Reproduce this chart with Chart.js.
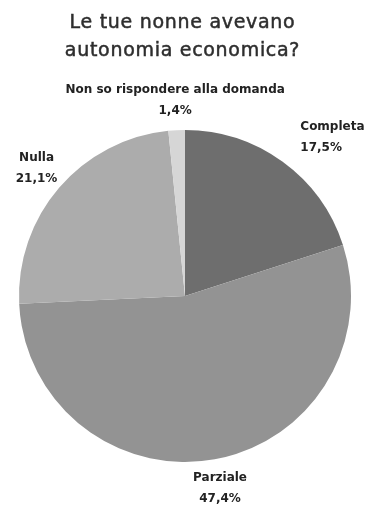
<!DOCTYPE html>
<html lang="it">
<head>
<meta charset="utf-8">
<title>Le tue nonne avevano autonomia economica?</title>
<script src="https://cdn.jsdelivr.net/npm/chart.js@4/dist/chart.umd.min.js"></script>
<style>
  html, body { margin: 0; padding: 0; background: #ffffff; }
  #wrap { width: 365px; height: 505px; position: relative; }
</style>
</head>
<body>
<div id="wrap"><canvas id="chart"></canvas></div>
<script>
// Survey answers and their shares (%)
const categories = ['Completa', 'Parziale', 'Nulla', 'Non so rispondere alla domanda'];
const shares = [17.5, 47.4, 21.1, 1.4];
const titleLines = ['Le tue nonne avevano', 'autonomia economica?'];

const sliceColors = ['#6e6e6e', '#939393', '#acacac', '#d6d6d6'];

const fmtPct = v => v.toFixed(1).replace('.', ',') + '%';

// Title with letter spacing and a slightly heavier stroke, drawn above the pie
const titlePlugin = {
  id: 'spacedTitle',
  afterDraw(chart) {
    const ctx = chart.ctx;
    ctx.save();
    ctx.font = '19px "DejaVu Sans"';
    ctx.fillStyle = '#2e2e2e';
    ctx.strokeStyle = '#2e2e2e';
    ctx.lineWidth = 0.5;
    ctx.textAlign = 'center';
    ctx.textBaseline = 'middle';
    if ('letterSpacing' in ctx) ctx.letterSpacing = '0.7px';
    const cx = chart.width / 2;
    titleLines.forEach((line, i) => {
      ctx.fillText(line, cx, 23 + i * 28);
      ctx.strokeText(line, cx, 23 + i * 28);
    });
    ctx.restore();
  }
};

// Category name + percentage placed outside each slice
const outsideLabels = {
  id: 'outsideLabels',
  afterDatasetsDraw(chart) {
    const ctx = chart.ctx;
    const meta = chart.getDatasetMeta(0);
    const values = chart.data.datasets[0].data;
    ctx.save();
    ctx.font = 'bold 12px "DejaVu Sans"';
    ctx.fillStyle = '#222222';
    ctx.textBaseline = 'middle';
    meta.data.forEach((arc, i) => {
      const { x, y, startAngle, endAngle, outerRadius } = arc.getProps(['x', 'y', 'startAngle', 'endAngle', 'outerRadius'], true);
      const mid = (startAngle + endAngle) / 2;
      const r = outerRadius + 30;
      const lx = x + Math.cos(mid) * r;
      const ly = y + Math.sin(mid) * r;
      const rightSide = Math.cos(mid) > 0.4;
      ctx.textAlign = rightSide ? 'left' : 'center';
      ctx.fillText(chart.data.labels[i], lx, ly - 10.5);
      ctx.fillText(fmtPct(values[i]), lx, ly + 10.5);
    });
    ctx.restore();
  }
};

new Chart(document.getElementById('chart'), {
  type: 'pie',
  data: {
    labels: categories,
    datasets: [{
      data: shares,
      backgroundColor: sliceColors,
      borderWidth: 0
    }]
  },
  options: {
    responsive: true,
    maintainAspectRatio: false,
    animation: false,
    layout: { padding: { top: 130, bottom: 43, left: 19, right: 14 } },
    plugins: {
      legend: { display: false },
      title: { display: false },
      tooltip: { enabled: false }
    }
  },
  plugins: [titlePlugin, outsideLabels]
});
</script>
</body>
</html>
